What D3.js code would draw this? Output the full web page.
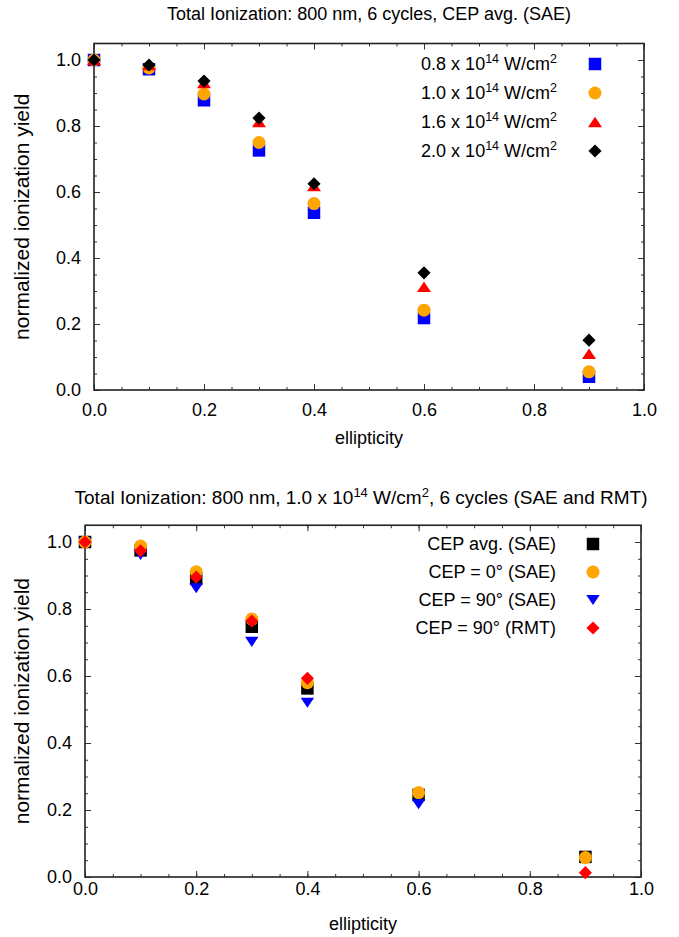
<!DOCTYPE html>
<html>
<head>
<meta charset="utf-8">
<script src="https://cdn.jsdelivr.net/npm/d3@7"></script>
<style>
  body { margin: 0; background: #fff; }
  text { font-family: "Liberation Sans", Arial, sans-serif; fill: #000; }
</style>
</head>
<body>
<div class="chart"></div>
<script>
// ellipticity values where the yield was computed
const ellipticity = [0, 0.1, 0.2, 0.3, 0.4, 0.6, 0.9];

// top panel: CEP averaged, different peak intensities
const yield08 = [1.0, 0.972, 0.878, 0.726, 0.537, 0.218, 0.040];
const yield10 = [1.0, 0.976, 0.897, 0.750, 0.565, 0.242, 0.055];
const yield16 = [1.0, 0.985, 0.930, 0.812, 0.618, 0.313, 0.110];
const yield20 = [1.0, 0.985, 0.936, 0.824, 0.625, 0.355, 0.151];
const intensityLabels = ["0.8", "1.0", "1.6", "2.0"];

// bottom panel: 1.0 x 10^14 W/cm^2, SAE and RMT
const cepAvgSAE = [1.0, 0.975, 0.890, 0.747, 0.563, 0.245, 0.060];
const cep0SAE = [1.0, 0.988, 0.911, 0.770, 0.580, 0.252, 0.058];
const cep90SAE = [1.0, 0.961, 0.862, 0.702, 0.520, 0.217, null];
const cep90RMT = [1.0, 0.974, 0.895, 0.764, 0.593, null, 0.013];
const cepLabels = ["CEP avg. (SAE)", "CEP = 0\u00b0 (SAE)", "CEP = 90\u00b0 (SAE)", "CEP = 90\u00b0 (RMT)"];

const xTicks = [0, 0.2, 0.4, 0.6, 0.8, 1.0];
const yTicks = [0, 0.2, 0.4, 0.6, 0.8, 1.0];
const minorTicks = d3.range(0, 1.001, 0.05);

const width = 679, height = 937;
const svg = d3.select(".chart").append("svg")
    .attr("width", width)
    .attr("height", height);

// gnuplot style markers
const triUp = {
    draw(ctx, size) {
        const r = Math.sqrt(size) / 2;
        ctx.moveTo(0, -r * 0.75);
        ctx.lineTo(r, r * 0.75);
        ctx.lineTo(-r, r * 0.75);
        ctx.closePath();
    }
};
const triDown = {
    draw(ctx, size) {
        const r = Math.sqrt(size) / 2;
        ctx.moveTo(0, r * 0.75);
        ctx.lineTo(r, -r * 0.75);
        ctx.lineTo(-r, -r * 0.75);
        ctx.closePath();
    }
};
const shapes = {
    square: { type: d3.symbolSquare, size: 156, rot: 0 },
    circle: { type: d3.symbolCircle, size: 133, rot: 0 },
    triUp: { type: triUp, size: 196, rot: 0 },
    triDown: { type: triDown, size: 182, rot: 0 },
    diamond: { type: d3.symbolSquare, size: 86, rot: 45 }
};

function drawMarker(g, shape, color, cx, cy) {
    const s = shapes[shape];
    g.append("path")
        .attr("d", d3.symbol().type(s.type).size(s.size)())
        .attr("fill", color)
        .attr("transform", `translate(${cx},${cy}) rotate(${s.rot})`);
}

function drawPanel(o) {
    const g = svg.append("g");
    const x = d3.scaleLinear().domain([0, 1]).range(o.xRange);
    const y = d3.scaleLinear().domain([0, 1.05]).range(o.yRange);
    const fmt = d3.format(".1f");

    // minor ticks on all four sides
    const minor = [
        [d3.axisBottom(x), `translate(0,${o.yRange[0]})`],
        [d3.axisTop(x), `translate(0,${o.yRange[1]})`],
        [d3.axisLeft(y), `translate(${o.xRange[0]},0)`],
        [d3.axisRight(y), `translate(${o.xRange[1]},0)`]
    ];
    minor.forEach(([ax, tr]) => {
        g.append("g").attr("transform", tr)
            .call(ax.tickValues(minorTicks.filter(v => v <= 1.0001)).tickSize(-3).tickFormat(""))
            .call(a => a.select(".domain").remove())
            .selectAll("line").attr("stroke", "#333");
    });

    // major ticks
    g.append("g").attr("transform", `translate(0,${o.yRange[0]})`)
        .call(d3.axisBottom(x).tickValues(xTicks).tickSize(-6).tickPadding(o.xPad).tickFormat(fmt))
        .call(a => a.select(".domain").remove())
        .call(a => a.selectAll("text").attr("font-size", 18).attr("font-family", null))
        .selectAll("line").attr("stroke", "#333");
    g.append("g").attr("transform", `translate(0,${o.yRange[1]})`)
        .call(d3.axisTop(x).tickValues(xTicks).tickSize(-6).tickFormat(""))
        .call(a => a.select(".domain").remove())
        .selectAll("line").attr("stroke", "#333");
    g.append("g").attr("transform", `translate(${o.xRange[0]},0)`)
        .call(d3.axisLeft(y).tickValues(yTicks).tickSize(-6).tickPadding(13).tickFormat(fmt))
        .call(a => a.select(".domain").remove())
        .call(a => a.selectAll("text").attr("font-size", 18).attr("font-family", null))
        .selectAll("line").attr("stroke", "#333");
    g.append("g").attr("transform", `translate(${o.xRange[1]},0)`)
        .call(d3.axisRight(y).tickValues(yTicks).tickSize(-6).tickFormat(""))
        .call(a => a.select(".domain").remove())
        .selectAll("line").attr("stroke", "#333");

    // frame
    g.append("rect")
        .attr("x", o.xRange[0]).attr("y", o.yRange[1])
        .attr("width", o.xRange[1] - o.xRange[0])
        .attr("height", o.yRange[0] - o.yRange[1])
        .attr("fill", "none").attr("stroke", "#222").attr("stroke-width", 1.6);

    // data
    o.series.forEach(s => {
        s.values.forEach((v, i) => {
            if (v == null) return;
            drawMarker(g, s.shape, s.color, x(ellipticity[i]), y(v));
        });
    });

    // legend
    o.legendOrder.forEach((s, i) => {
        const ly = o.legendY + i * o.legendStep;
        const t = g.append("text")
            .attr("x", o.legendTextX).attr("y", ly + 6)
            .attr("text-anchor", "end").attr("font-size", 18);
        s.label(t);
        drawMarker(g, s.shape, s.color, o.legendMarkX, ly);
    });

    // labels
    const midX = (o.xRange[0] + o.xRange[1]) / 2;
    const midY = (o.yRange[0] + o.yRange[1]) / 2;
    g.append("text")
        .attr("x", midX).attr("y", o.xLabelY)
        .attr("text-anchor", "middle").attr("font-size", 18)
        .text("ellipticity");
    g.append("text")
        .attr("transform", `translate(29,${midY}) rotate(-90)`)
        .attr("text-anchor", "middle").attr("font-size", 21)
        .text("normalized ionization yield");
    const title = g.append("text")
        .attr("x", o.titleX).attr("y", o.titleY)
        .attr("text-anchor", "middle").attr("font-size", o.titleSize);
    o.title(title);
}

function intensityLabel(val) {
    return t => {
        t.append("tspan").text(val + " x 10");
        t.append("tspan").attr("dy", -7).attr("font-size", 12.5).text("14");
        t.append("tspan").attr("dy", 7).text(" W/cm");
        t.append("tspan").attr("dy", -7).attr("font-size", 12.5).text("2");
    };
}

const topSeries = [
    { values: yield08, shape: "square", color: "#0000ff", label: intensityLabel(intensityLabels[0]) },
    { values: yield10, shape: "circle", color: "#ffa500", label: intensityLabel(intensityLabels[1]) },
    { values: yield16, shape: "triUp", color: "#ff0000", label: intensityLabel(intensityLabels[2]) },
    { values: yield20, shape: "diamond", color: "#000000", label: intensityLabel(intensityLabels[3]) }
];

drawPanel({
    xRange: [94, 644],
    yRange: [390, 43.5],
    xPad: 13,
    series: topSeries,
    legendOrder: topSeries,
    legendY: 64, legendStep: 29, legendTextX: 557, legendMarkX: 595,
    xLabelY: 444,
    titleX: 369, titleY: 20, titleSize: 18,
    title: t => t.text("Total Ionization: 800 nm, 6 cycles, CEP avg. (SAE)")
});

const avg = { values: cepAvgSAE, shape: "square", color: "#000000", label: t => t.text(cepLabels[0]) };
const c0 = { values: cep0SAE, shape: "circle", color: "#ffa500", label: t => t.text(cepLabels[1]) };
const c90 = { values: cep90SAE, shape: "triDown", color: "#0000ff", label: t => t.text(cepLabels[2]) };
const rmt = { values: cep90RMT, shape: "diamond", color: "#ff0000", label: t => t.text(cepLabels[3]) };

drawPanel({
    xRange: [85, 641],
    yRange: [877, 525.25],
    xPad: 5,
    series: [avg, c90, c0, rmt],
    legendOrder: [avg, c0, c90, rmt],
    legendY: 544, legendStep: 28, legendTextX: 556, legendMarkX: 593,
    xLabelY: 930,
    titleX: 361, titleY: 504, titleSize: 19,
    title: t => {
        t.append("tspan").text("Total Ionization: 800 nm, 1.0 x 10");
        t.append("tspan").attr("dy", -7).attr("font-size", 13).text("14");
        t.append("tspan").attr("dy", 7).text(" W/cm");
        t.append("tspan").attr("dy", -7).attr("font-size", 13).text("2");
        t.append("tspan").attr("dy", 7).text(", 6 cycles (SAE and RMT)");
    }
});
</script>
</body>
</html>
